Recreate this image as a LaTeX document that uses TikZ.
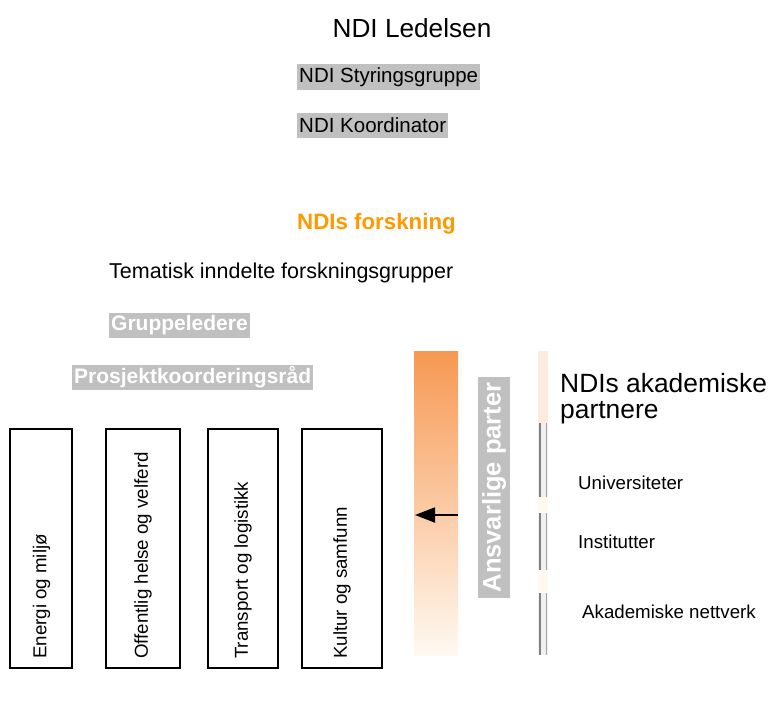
\documentclass[tikz,border=0pt]{standalone}
\usepackage{fontspec}
\setmainfont{Liberation Sans}
\usetikzlibrary{arrows.meta}
\definecolor{boxgray}{RGB}{192,192,192}
\definecolor{ndiorange}{RGB}{255,153,0}
\definecolor{bartop}{RGB}{247,152,82}
\definecolor{barmid}{RGB}{250,196,154}
\definecolor{barbot}{RGB}{255,249,242}
\definecolor{peach}{RGB}{253,236,222}
\definecolor{cream}{RGB}{255,250,236}
\definecolor{lineA}{RGB}{128,128,128}
\definecolor{lineB}{RGB}{165,165,165}
\newcommand{\fs}[1]{\fontsize{#1}{#1}\selectfont}
\tikzset{
  graylabel/.style={fill=boxgray, inner xsep=2pt, inner ysep=0pt, minimum height=25pt, anchor=west},
  whitebold/.style={graylabel, text=white, font=\fs{21}\bfseries},
  blacklabel/.style={graylabel, text=black, font=\fs{20.5}},
  catbox/.style={draw=black, line width=2pt, inner sep=0pt, minimum height=239pt},
  cattext/.style={rotate=90, anchor=west, inner sep=0pt, font=\fs{18.7}},
  plain/.style={inner sep=0pt, font=\fs{18.7}, anchor=west},
}
\begin{document}
\begin{tikzpicture}[x=1pt,y=-1pt]
\useasboundingbox (0,0) rectangle (768,704);
% top titles
\node[inner sep=0pt, font=\fs{26.2}] (ledelsen) at (412,28) {NDI Ledelsen};
\node[blacklabel, minimum height=26pt] (styring) at (297,77) {NDI Styringsgruppe};
\node[blacklabel, minimum height=25pt] (koord) at (297,125.5) {NDI Koordinator};
\node[inner sep=0pt, text=ndiorange, font=\fs{22.3}\bfseries] (forskning) at (376.5,224) {NDIs forskning};
\node[plain, font=\fs{21.5}] (tematisk) at (109,273) {Tematisk inndelte forskningsgrupper};
\node[whitebold] (gruppe) at (109,325) {Gruppeledere};
\node[whitebold] (prosjekt) at (72,377.5) {Prosjektkoorderingsråd};
% category boxes
\node[catbox, minimum width=62pt] (b1) at (41,548.5) {};
\node[catbox, minimum width=74pt] (b2) at (143,548.5) {};
\node[catbox, minimum width=70pt] (b3) at (243,548.5) {};
\node[catbox, minimum width=80pt] (b4) at (342,548.5) {};
\node[cattext] (t1) at (41.5,659) {Energi og miljø};
\node[cattext] (t2) at (143,659) {Offentlig helse og velferd};
\node[cattext] (t3) at (243,659) {Transport og logistikk};
\node[cattext] (t4) at (342,659) {Kultur og samfunn};
% orange gradient bar
\node[inner sep=0pt, minimum width=44pt, minimum height=304pt,
      top color=bartop, middle color=barmid, bottom color=barbot] (bar) at (436,503) {};
\coordinate (arrS) at (458,515);
\coordinate (arrE) at (415,515);
\draw[line width=1.8pt, -{Triangle[length=20pt,width=15pt]}] (arrS) -- (arrE);
% Ansvarlige parter
\node[rotate=90, fill=boxgray, text=white, font=\fs{25.5}\bfseries, inner sep=0pt,
      minimum width=221pt, minimum height=32pt] (ansvar) at (494,487.5) {Ansvarlige parter};
% thin partner bar
\fill[peach] (538,351) rectangle (548,423);
\fill[cream] (538,497) rectangle (548,513);
\fill[cream] (538,570) rectangle (548,593);
\foreach \a/\b in {423/497,513/570,593/655}{
  \fill[white!94!black] (538,\a) rectangle (548,\b);
  \draw[lineA, line width=2pt] (539.5,\a) -- (539.5,\b);
  \draw[lineB, line width=1.5pt] (546.5,\a) -- (546.5,\b);
}
% partner texts
\node[inner sep=0pt, anchor=north west, align=left, font=\fontsize{26.4}{26.5}\selectfont] (akad) at (560,373) {NDIs akademiske\\partnere};
\node[plain] (univ) at (578,483) {Universiteter};
\node[plain] (inst) at (578,542) {Institutter};
\node[plain] (nett) at (582,612) {Akademiske nettverk};
\end{tikzpicture}
\end{document}
